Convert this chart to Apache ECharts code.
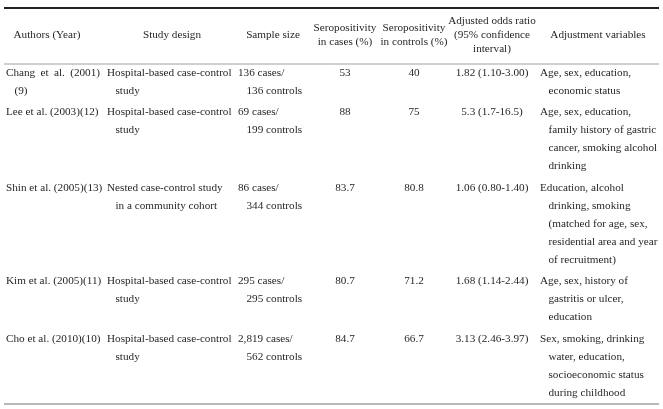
<!DOCTYPE html>
<html>
<head>
<meta charset="utf-8">
<script src="https://cdn.jsdelivr.net/npm/echarts@6/dist/echarts.min.js"></script>
<style>
html,body{margin:0;padding:0;background:#fff;}
#main{width:663px;height:409px;}
</style>
</head>
<body>
<div id="main"></div>
<script>
// ---- data ----
var headers = [
  "Authors (Year)",
  "Study design",
  "Sample size",
  "Seropositivity\nin cases (%)",
  "Seropositivity\nin controls (%)",
  "Adjusted odds ratio\n(95% confidence\ninterval)",
  "Adjustment variables"
];
var authors = [
  ["Chang et al. (2001)", "(9)"],
  ["Lee et al. (2003)(12)"],
  ["Shin et al. (2005)(13)"],
  ["Kim et al. (2005)(11)"],
  ["Cho et al. (2010)(10)"]
];
var designs = [
  ["Hospital-based case-control", "study"],
  ["Hospital-based case-control", "study"],
  ["Nested case-control study", "in a community cohort"],
  ["Hospital-based case-control", "study"],
  ["Hospital-based case-control", "study"]
];
var samples = [
  ["136 cases/", "136 controls"],
  ["69 cases/", "199 controls"],
  ["86 cases/", "344 controls"],
  ["295 cases/", "295 controls"],
  ["2,819 cases/", "562 controls"]
];
var casesPct = ["53", "88", "83.7", "80.7", "84.7"];
var controlsPct = ["40", "75", "80.8", "71.2", "66.7"];
var oddsRatios = ["1.82 (1.10-3.00)", "5.3 (1.7-16.5)", "1.06 (0.80-1.40)", "1.68 (1.14-2.44)", "3.13 (2.46-3.97)"];
var adjustments = [
  ["Age, sex, education,", "economic status"],
  ["Age, sex, education,", "family history of gastric", "cancer, smoking alcohol", "drinking"],
  ["Education, alcohol", "drinking, smoking", "(matched for age, sex,", "residential area and year", "of recruitment)"],
  ["Age, sex, history of", "gastritis or ulcer,", "education"],
  ["Sex, smoking, drinking", "water, education,", "socioeconomic status", "during childhood"]
];

// ---- layout ----
var FONT = '"Liberation Serif", "DejaVu Serif", serif';
var FS = 11.2;
var COLOR = '#231f20';
var left = 4, right = 659;
var topLineY = 8, headLineY = 64, bottomLineY = 404;
var headerCenterY = 35, headerLH = 14.2;
var firstRowY = 73, LH = 18, rowGap = 3.5;
var indent = 8.5;
// column spec: header center x; body x & alignment; justify width for wrapped first lines
var cols = [
  {hx: 47,  bx: 6,   align: 'left', justify: 94},
  {hx: 172, bx: 107, align: 'left'},
  {hx: 273, bx: 238, align: 'left'},
  {hx: 345, bx: 345, align: 'center'},
  {hx: 414, bx: 414, align: 'center'},
  {hx: 492, bx: 492, align: 'center'},
  {hx: 598, bx: 540, align: 'left'}
];

var fontStr = FS + 'px ' + FONT;
var measureCtx = document.createElement('canvas').getContext('2d');
measureCtx.font = fontStr;

var elements = [];
function txt(x, y, s, align) {
  elements.push({
    type: 'text', x: x, y: y, silent: true,
    style: {text: s, font: fontStr, fill: COLOR, align: align, verticalAlign: 'middle'}
  });
}
function justified(x, y, s, width) {
  var words = s.split(' ');
  var total = 0;
  words.forEach(function (w) { total += measureCtx.measureText(w).width; });
  var gap = words.length > 1 ? (width - total) / (words.length - 1) : 0;
  var cx = x;
  words.forEach(function (w) {
    txt(cx, y, w, 'left');
    cx += measureCtx.measureText(w).width + gap;
  });
}
function hline(y, w, c) {
  elements.push({type: 'line', silent: true, shape: {x1: left, y1: y, x2: right, y2: y}, style: {stroke: c, lineWidth: w}});
}

hline(topLineY, 2, '#231f20');
hline(headLineY, 1, '#a0a0a0');
hline(bottomLineY, 1.5, '#a0a0a0');

headers.forEach(function (h, i) {
  var lines = h.split('\n');
  var y0 = headerCenterY - (lines.length - 1) * headerLH / 2;
  lines.forEach(function (l, k) { txt(cols[i].hx, y0 + k * headerLH, l, 'center'); });
});

var y = firstRowY;
for (var r = 0; r < authors.length; r++) {
  var cells = [authors[r], designs[r], samples[r], [casesPct[r]], [controlsPct[r]], [oddsRatios[r]], adjustments[r]];
  var maxLines = 1;
  cells.forEach(function (cell, c) {
    maxLines = Math.max(maxLines, cell.length);
    cell.forEach(function (l, k) {
      var spec = cols[c];
      if (spec.justify && k === 0 && cell.length > 1) {
        justified(spec.bx, y, l, spec.justify);
        return;
      }
      var x = spec.bx + (k > 0 && spec.align === 'left' ? indent : 0);
      txt(x, y + k * LH, l, spec.align);
    });
  });
  y += maxLines * LH + rowGap;
}

var chart = echarts.init(document.getElementById('main'), null, {renderer: 'canvas'});
chart.setOption({backgroundColor: '#fff', animation: false, graphic: {elements: elements}});
</script>
</body>
</html>
